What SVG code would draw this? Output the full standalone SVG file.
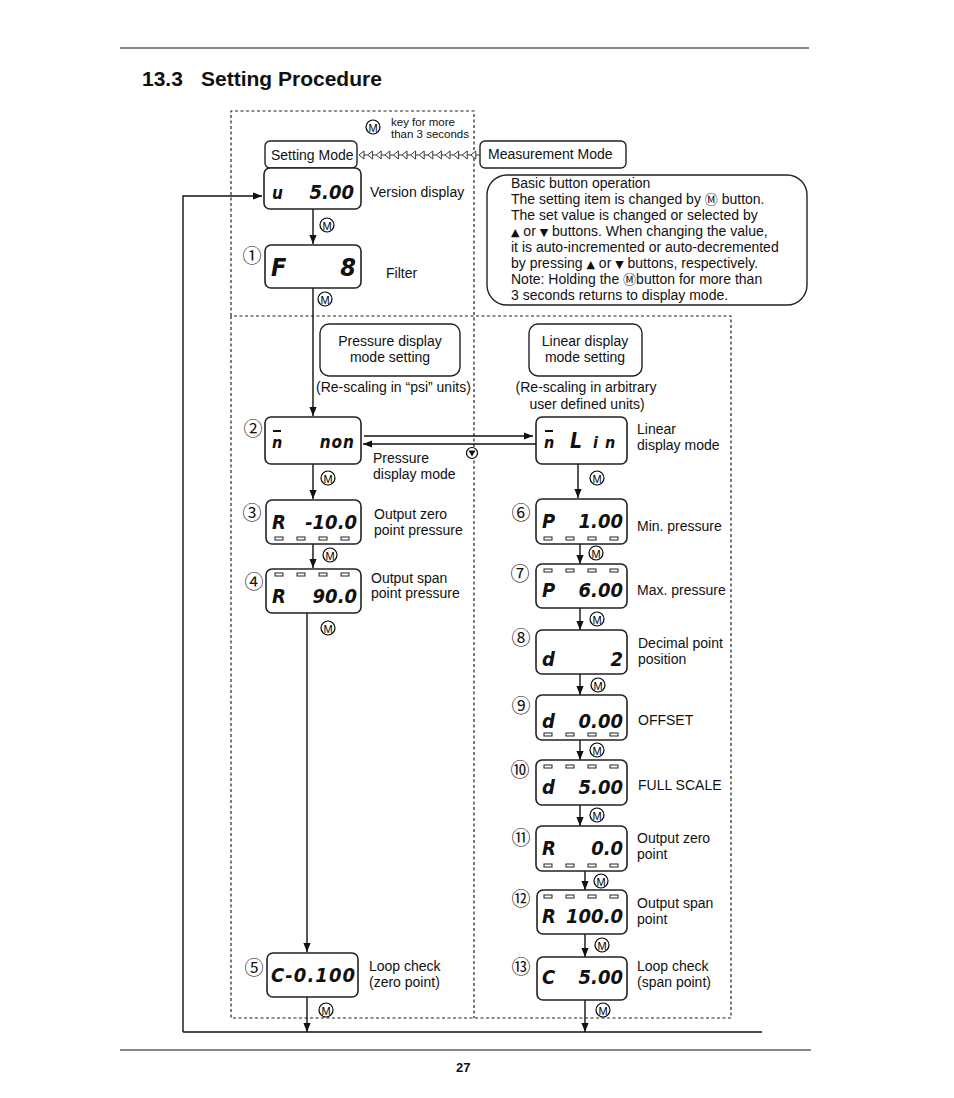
<svg xmlns="http://www.w3.org/2000/svg" xmlns:xlink="http://www.w3.org/1999/xlink" width="954" height="1098" viewBox="0 0 954 1098">
<defs>
<style>
.t{font-family:"Liberation Sans",Arial,"DejaVu Sans",sans-serif;font-size:14px;fill:#111}
.s{font-family:"Liberation Sans",Arial,sans-serif;font-size:11.5px;fill:#111}
.b{font-family:"Liberation Sans",Arial,sans-serif;font-weight:bold;fill:#111}
.cn{font-family:"Noto Sans CJK JP",sans-serif;font-size:19px;fill:#111;text-anchor:middle;dominant-baseline:central}
.d{font-family:"DejaVu Sans Condensed","DejaVu Sans",sans-serif;font-style:oblique;font-weight:bold;fill:#111}
.lcd{fill:#fff;stroke:#222;stroke-width:1.6}
.box{fill:#fff;stroke:#222;stroke-width:1.4}
.dash{fill:none;stroke:#222;stroke-width:1.2;stroke-dasharray:3 2.5}
.ln{fill:none;stroke:#111;stroke-width:1.4}
.seg{fill:#fff;stroke:#222;stroke-width:1}
.mc{fill:#fff;stroke:#000;stroke-width:1.2}
.mt{font-family:"Liberation Sans",Arial,sans-serif;font-size:11px;fill:#000;text-anchor:middle;dominant-baseline:central}
</style>
<marker id="ah" viewBox="0 0 10 10" refX="10" refY="5" markerWidth="9" markerHeight="9" markerUnits="userSpaceOnUse" orient="auto">
<path d="M0,1 L10,5 L0,9 Z" fill="#111"/>
</marker>
<path id="ch" d="M0,0 L5,-4 L5,4 Z M5,0 L8.6,0" fill="#fff" stroke="#222" stroke-width="0.9"/>
<g id="segs">
<rect class="seg" x="0" y="0" width="8" height="3"/>
<rect class="seg" x="22" y="0" width="8" height="3"/>
<rect class="seg" x="44" y="0" width="8" height="3"/>
<rect class="seg" x="66" y="0" width="8" height="3"/>
</g>
</defs>

<rect width="954" height="1098" fill="#fff"/>

<!-- page header/footer -->
<line x1="120" y1="48" x2="809" y2="48" stroke="#111" stroke-width="1.2"/>
<text class="b" x="142" y="86" font-size="21">13.3</text>
<text class="b" x="201" y="86" font-size="21">Setting Procedure</text>
<line x1="120" y1="1050" x2="811" y2="1050" stroke="#111" stroke-width="1.2"/>
<text class="b" x="456" y="1072" font-size="13">27</text>

<!-- dashed regions -->
<g id="regions">
<path class="dash" d="M231,316 V111 H474 V1018"/>
<path class="dash" d="M231,316 V1018 H731 V316 H231"/>
</g>

<!-- connectors -->
<g id="connectors">
<g id="chain">
<use xlink:href="#ch" x="359" y="155"/><use xlink:href="#ch" x="367.6" y="155"/><use xlink:href="#ch" x="376.2" y="155"/><use xlink:href="#ch" x="384.8" y="155"/><use xlink:href="#ch" x="393.4" y="155"/><use xlink:href="#ch" x="402" y="155"/><use xlink:href="#ch" x="410.6" y="155"/><use xlink:href="#ch" x="419.2" y="155"/><use xlink:href="#ch" x="427.8" y="155"/><use xlink:href="#ch" x="436.4" y="155"/><use xlink:href="#ch" x="445" y="155"/><use xlink:href="#ch" x="453.6" y="155"/><use xlink:href="#ch" x="462.2" y="155"/><use xlink:href="#ch" x="470.8" y="155"/>
</g>
<path class="ln" d="M183,1032 H762"/>
<path class="ln" d="M183,1032 V196 H262" marker-end="url(#ah)"/>
<line class="ln" x1="313" y1="209" x2="313" y2="244" marker-end="url(#ah)"/>
<line class="ln" x1="313" y1="288" x2="313" y2="416" marker-end="url(#ah)" stroke-width="1.6"/>
<line class="ln" x1="364" y1="436" x2="533" y2="436" marker-end="url(#ah)" stroke-width="1.1"/>
<line class="ln" x1="536" y1="444" x2="363" y2="444" marker-end="url(#ah)" stroke-width="2"/>
<line class="ln" x1="313" y1="464" x2="313" y2="499" marker-end="url(#ah)"/>
<line class="ln" x1="313" y1="544" x2="313" y2="568" marker-end="url(#ah)"/>
<line class="ln" x1="307" y1="613" x2="307" y2="952" marker-end="url(#ah)" stroke-width="1.6"/>
<line class="ln" x1="307" y1="997" x2="307" y2="1032" marker-end="url(#ah)"/>
<line class="ln" x1="578" y1="464" x2="578" y2="498" marker-end="url(#ah)"/>
<line class="ln" x1="580" y1="544" x2="580" y2="564" marker-end="url(#ah)"/>
<line class="ln" x1="580" y1="608" x2="580" y2="630" marker-end="url(#ah)"/>
<line class="ln" x1="580" y1="674" x2="580" y2="695" marker-end="url(#ah)"/>
<line class="ln" x1="580" y1="740" x2="580" y2="760" marker-end="url(#ah)"/>
<line class="ln" x1="580" y1="805" x2="580" y2="826" marker-end="url(#ah)"/>
<line class="ln" x1="585" y1="871" x2="585" y2="890" marker-end="url(#ah)"/>
<line class="ln" x1="585" y1="934" x2="585" y2="957" marker-end="url(#ah)"/>
<line class="ln" x1="585" y1="1000" x2="585" y2="1032" marker-end="url(#ah)"/>
<g id="mkeys">
<circle class="mc" cx="373" cy="127" r="7"/><text class="mt" x="373" y="127.5">M</text>
<circle class="mc" cx="327" cy="225" r="7"/><text class="mt" x="327" y="225.5">M</text>
<circle class="mc" cx="325" cy="299" r="7"/><text class="mt" x="325" y="299.5">M</text>
<circle class="mc" cx="328" cy="478" r="7"/><text class="mt" x="328" y="478.5">M</text>
<circle class="mc" cx="330" cy="555" r="7"/><text class="mt" x="330" y="555.5">M</text>
<circle class="mc" cx="328" cy="628" r="7"/><text class="mt" x="328" y="628.5">M</text>
<circle class="mc" cx="326" cy="1010" r="7"/><text class="mt" x="326" y="1010.5">M</text>
<circle class="mc" cx="597" cy="478" r="7"/><text class="mt" x="597" y="478.5">M</text>
<circle class="mc" cx="596" cy="553" r="7"/><text class="mt" x="596" y="553.5">M</text>
<circle class="mc" cx="597" cy="619" r="7"/><text class="mt" x="597" y="619.5">M</text>
<circle class="mc" cx="598" cy="685" r="7"/><text class="mt" x="598" y="685.5">M</text>
<circle class="mc" cx="597" cy="750" r="7"/><text class="mt" x="597" y="750.5">M</text>
<circle class="mc" cx="597" cy="815" r="7"/><text class="mt" x="597" y="815.5">M</text>
<circle class="mc" cx="601" cy="881" r="7"/><text class="mt" x="601" y="881.5">M</text>
<circle class="mc" cx="602" cy="945" r="7"/><text class="mt" x="602" y="945.5">M</text>
<circle class="mc" cx="603" cy="1010" r="7"/><text class="mt" x="603" y="1010.5">M</text>
</g>
<g id="downkey">
<circle class="mc" cx="472" cy="453" r="5.5"/>
<path d="M468.5,450.5 H475.5 L472,456.5 Z" fill="#111"/>
</g>
</g>

<text class="s" x="391" y="126">key for more</text>
<text class="s" x="391" y="138">than 3 seconds</text>

<g id="setting-mode">
<rect class="box" x="265" y="141" width="92" height="27" rx="5"/>
<text class="t" x="271" y="160">Setting Mode</text>
</g>
<g id="measurement-mode">
<rect class="box" x="480" y="141" width="146" height="27" rx="5"/>
<text class="t" x="488" y="159">Measurement Mode</text>
</g>

<g id="basic-op">
<rect class="box" x="487" y="175" width="320" height="130" rx="20"/>
<text class="t" x="511" y="188">Basic button operation</text>
<text class="t" x="511" y="204">The setting item is changed by <tspan font-family="Noto Sans CJK JP" font-size="13">Ⓜ</tspan> button.</text>
<text class="t" x="511" y="220">The set value is changed or selected by</text>
<text class="t" x="511" y="236"><tspan font-family="DejaVu Sans" font-size="11">▲</tspan> or <tspan font-family="DejaVu Sans" font-size="11">▼</tspan> buttons. When changing the value,</text>
<text class="t" x="511" y="252">it is auto-incremented or auto-decremented</text>
<text class="t" x="511" y="268">by pressing <tspan font-family="DejaVu Sans" font-size="11">▲</tspan> or <tspan font-family="DejaVu Sans" font-size="11">▼</tspan> buttons, respectively.</text>
<text class="t" x="511" y="284">Note: Holding the <tspan font-family="Noto Sans CJK JP" font-size="13">Ⓜ</tspan>button for more than</text>
<text class="t" x="511" y="300">3 seconds returns to display mode.</text>
</g>

<g id="version">
<rect class="lcd" x="264" y="168" width="97" height="41" rx="6"/>
<text class="d" x="272" y="199" font-size="17">u</text>
<text class="d" x="354" y="199" font-size="20" text-anchor="end">5.00</text>
<text class="t" x="370" y="197">Version display</text>
</g>
<g id="n1">
<text class="cn" x="252" y="254">①</text>
<rect class="lcd" x="265" y="245" width="96" height="43" rx="6"/>
<text class="d" x="271" y="276" font-size="25">F</text>
<text class="d" x="356" y="276" font-size="25" text-anchor="end">8</text>
<text class="t" x="386" y="278">Filter</text>
</g>

<g id="pressure-setting">
<rect class="box" x="320" y="324" width="140" height="52" rx="9"/>
<text class="t" x="390" y="346" text-anchor="middle">Pressure display</text>
<text class="t" x="390" y="362" text-anchor="middle">mode setting</text>
<text class="t" x="316" y="392">(Re-scaling in “psi” units)</text>
</g>
<g id="linear-setting">
<rect class="box" x="529" y="324" width="113" height="52" rx="9"/>
<text class="t" x="585" y="346" text-anchor="middle">Linear display</text>
<text class="t" x="585" y="362" text-anchor="middle">mode setting</text>
<text class="t" x="586" y="392" text-anchor="middle">(Re-scaling in arbitrary</text>
<text class="t" x="587" y="409" text-anchor="middle">user defined units)</text>
</g>

<g id="n2">
<text class="cn" x="253" y="427">②</text>
<rect class="lcd" x="265" y="417" width="96" height="47" rx="6"/>
<line x1="273" y1="431" x2="281" y2="431" stroke="#111" stroke-width="2"/>
<text class="d" x="272" y="448" font-size="16">n</text>
<text class="d" x="355" y="448" font-size="17" text-anchor="end" letter-spacing="1">non</text>
<text class="t" x="373" y="463">Pressure</text>
<text class="t" x="373" y="479">display mode</text>
</g>
<g id="linear">
<rect class="lcd" x="536" y="417" width="91" height="47" rx="6"/>
<line x1="545" y1="431" x2="553" y2="431" stroke="#111" stroke-width="2"/>
<text class="d" x="544" y="448" font-size="16">n</text>
<text class="d" x="570" y="448" font-size="21">L</text>
<text class="d" x="593" y="448" font-size="16">i</text>
<text class="d" x="605" y="448" font-size="16">n</text>
<text class="t" x="637" y="434">Linear</text>
<text class="t" x="637" y="450">display mode</text>
</g>

<g id="n3">
<text class="cn" x="252" y="511">③</text>
<rect class="lcd" x="266" y="500" width="95" height="44" rx="6"/>
<text class="d" x="272" y="529" font-size="20">R</text>
<text class="d" x="357" y="529" font-size="20" text-anchor="end">-10.0</text>
<use xlink:href="#segs" x="275" y="537"/>
<text class="t" x="374" y="519">Output zero</text>
<text class="t" x="374" y="535">point pressure</text>
</g>
<g id="n4">
<text class="cn" x="254" y="580">④</text>
<rect class="lcd" x="266" y="569" width="95" height="44" rx="6"/>
<use xlink:href="#segs" x="275" y="573"/>
<text class="d" x="272" y="603" font-size="20">R</text>
<text class="d" x="357" y="603" font-size="20" text-anchor="end">90.0</text>
<text class="t" x="371" y="583">Output span</text>
<text class="t" x="371" y="598">point pressure</text>
</g>
<g id="n5">
<text class="cn" x="254" y="966">⑤</text>
<rect class="lcd" x="267" y="953" width="91" height="44" rx="6"/>
<text class="d" x="271" y="982" font-size="20" textLength="84" lengthAdjust="spacing">C-0.100</text>
<text class="t" x="369" y="971">Loop check</text>
<text class="t" x="369" y="987">(zero point)</text>
</g>

<g id="n6">
<text class="cn" x="521" y="511">⑥</text>
<rect class="lcd" x="536" y="499" width="91" height="45" rx="6"/>
<text class="d" x="542" y="528" font-size="20">P</text>
<text class="d" x="623" y="528" font-size="20" text-anchor="end">1.00</text>
<use xlink:href="#segs" x="544" y="537"/>
<text class="t" x="637" y="531">Min. pressure</text>
</g>
<g id="n7">
<text class="cn" x="520" y="572">⑦</text>
<rect class="lcd" x="536" y="564" width="91" height="44" rx="6"/>
<use xlink:href="#segs" x="544" y="569"/>
<text class="d" x="542" y="597" font-size="20">P</text>
<text class="d" x="623" y="597" font-size="20" text-anchor="end">6.00</text>
<text class="t" x="637" y="595">Max. pressure</text>
</g>
<g id="n8">
<text class="cn" x="521" y="636">⑧</text>
<rect class="lcd" x="536" y="630" width="91" height="44" rx="6"/>
<text class="d" x="542" y="666" font-size="20">d</text>
<text class="d" x="623" y="666" font-size="20" text-anchor="end">2</text>
<text class="t" x="638" y="648">Decimal point</text>
<text class="t" x="638" y="664">position</text>
</g>
<g id="n9">
<text class="cn" x="521" y="704">⑨</text>
<rect class="lcd" x="536" y="695" width="91" height="45" rx="6"/>
<text class="d" x="542" y="728" font-size="20">d</text>
<text class="d" x="623" y="728" font-size="20" text-anchor="end">0.00</text>
<use xlink:href="#segs" x="544" y="733"/>
<text class="t" x="638" y="725">OFFSET</text>
</g>
<g id="n10">
<text class="cn" x="520" y="768">⑩</text>
<rect class="lcd" x="536" y="760" width="91" height="45" rx="6"/>
<use xlink:href="#segs" x="544" y="765"/>
<text class="d" x="542" y="794" font-size="20">d</text>
<text class="d" x="623" y="794" font-size="20" text-anchor="end">5.00</text>
<text class="t" x="638" y="790">FULL SCALE</text>
</g>
<g id="n11">
<text class="cn" x="521" y="836">⑪</text>
<rect class="lcd" x="536" y="826" width="91" height="45" rx="6"/>
<text class="d" x="542" y="855" font-size="20">R</text>
<text class="d" x="623" y="855" font-size="20" text-anchor="end">0.0</text>
<use xlink:href="#segs" x="544" y="864"/>
<text class="t" x="637" y="843">Output zero</text>
<text class="t" x="637" y="859">point</text>
</g>
<g id="n12">
<text class="cn" x="521" y="897">⑫</text>
<rect class="lcd" x="537" y="890" width="90" height="44" rx="6"/>
<use xlink:href="#segs" x="544" y="895"/>
<text class="d" x="542" y="923" font-size="20">R</text>
<text class="d" x="623" y="923" font-size="20" text-anchor="end">100.0</text>
<text class="t" x="637" y="908">Output span</text>
<text class="t" x="637" y="924">point</text>
</g>
<g id="n13">
<text class="cn" x="521" y="965">⑬</text>
<rect class="lcd" x="537" y="957" width="90" height="43" rx="6"/>
<text class="d" x="542" y="984" font-size="20">C</text>
<text class="d" x="623" y="984" font-size="20" text-anchor="end">5.00</text>
<text class="t" x="637" y="971">Loop check</text>
<text class="t" x="637" y="987">(span point)</text>
</g>
</svg>
